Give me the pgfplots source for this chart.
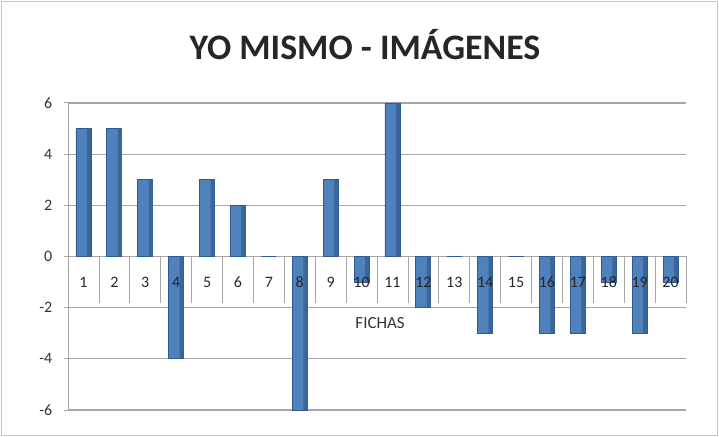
\documentclass[border=0pt]{standalone}
\usepackage{pgfplots}
\pgfplotsset{compat=1.18}
\usepackage{fontspec}
\setmainfont{Carlito}
\definecolor{barblue}{HTML}{4F81BD}
\definecolor{bardark}{HTML}{2F5A8F}
\definecolor{barside}{HTML}{3A6699}
\definecolor{gridgray}{HTML}{A6A6A6}
\pgfplotstableread{
x y
1 5
2 5
3 3
4 -4
5 3
6 2
7 0
8 -6
9 3
10 -1
11 6
12 -2
13 0
14 -3
15 0
16 -3
17 -3
18 -1
19 -3
20 -1
}\datatable
\begin{document}
\begin{tikzpicture}
\path[use as bounding box] (-68bp,-27bp) rectangle (651bp,410bp);
\draw[gray!45, line width=1bp] (-66bp,-25bp) rectangle (649bp,408bp);
\begin{axis}[
  at={(0,0)}, anchor=south west,
  scale only axis,
  width=618bp, height=307bp,
  xmin=0.5, xmax=20.5,
  ymin=-6, ymax=6,
  ytick={-6,-4,...,6},
  xtick={1,...,20},
  xticklabels={},
  axis x line=middle,
  axis y line=left,
  axis line style={gridgray, line width=1bp, -},
  x axis line style={draw=none},
  ymajorgrids,
  grid style={gridgray, line width=1.2bp},
  major x tick style={draw=none},
  major y tick style={gridgray, line width=1bp},
  tick align=outside,
  /pgf/number format/assume math mode=true,
  tick label style={font=\fontsize{16}{18}\selectfont, text=black!80},
  y tick label style={xshift=-8bp},
  clip=false,
]
\addplot[ybar, bar width=15bp, bar shift=0bp, fill=barblue, draw=bardark, line width=0.8bp] table[x=x,y=y] {\datatable};
\addplot[ybar, bar width=4bp, bar shift=5.5bp, fill=barside, draw=none] table[x=x,y=y] {\datatable};
\pgfplotsinvokeforeach{0.5,1.5,...,20.5}{
  \draw[gridgray, line width=0.8bp] (axis cs:#1,0) -- (axis cs:#1,-1.8);
}
\pgfplotsinvokeforeach{1,...,20}{
  \node[font=\fontsize{16}{18}\selectfont, text=black!85] at (axis cs:#1,-1.0) {#1};
}
\node[font=\fontsize{17}{19}\selectfont, text=black!80] at (axis cs:10.6,-2.6) {FICHAS};
\end{axis}
\node[font=\fontsize{36}{40}\bfseries\selectfont, text=black!85] at (297bp,365bp) {YO MISMO - IMÁGENES};
\end{tikzpicture}
\end{document}
